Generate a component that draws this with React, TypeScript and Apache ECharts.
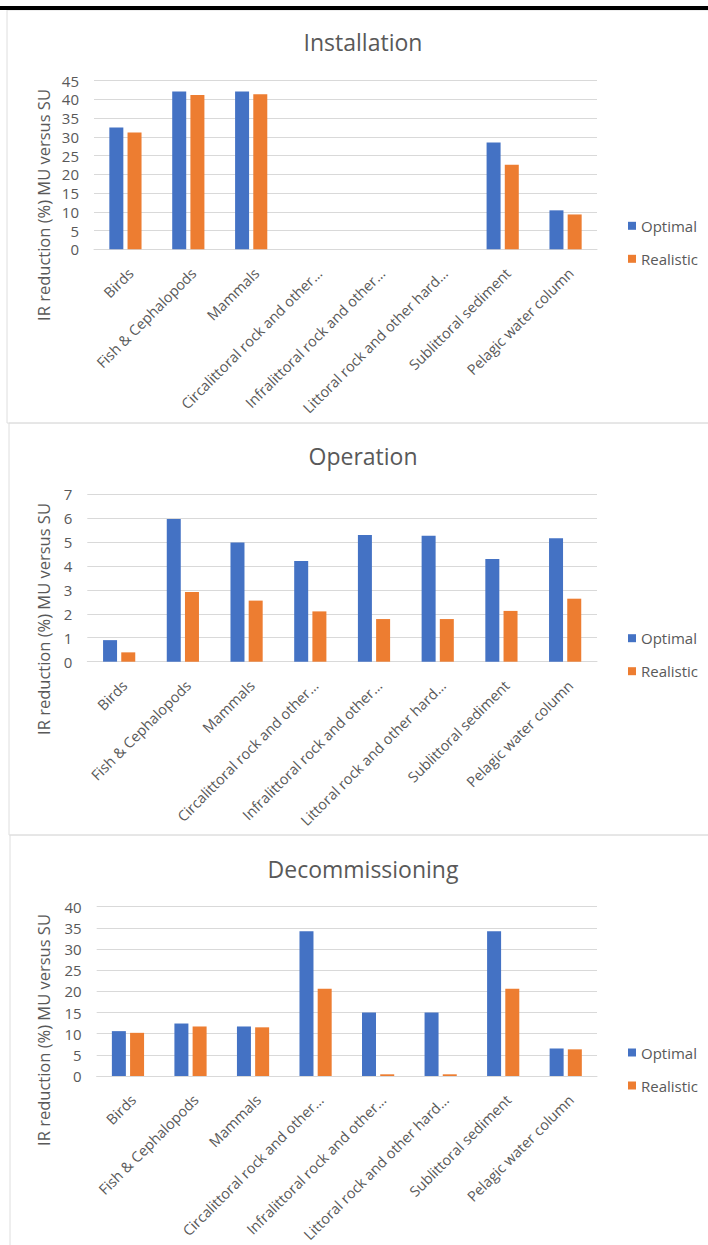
import React, { useEffect, useRef } from "react";
import * as echarts from "echarts";

// Shared category axis
const categories = [
  "Birds",
  "Fish & Cephalopods",
  "Mammals",
  "Circalittoral rock and other…",
  "Infralittoral rock and other…",
  "Littoral rock and other hard…",
  "Sublittoral sediment",
  "Pelagic water column",
];

const seriesNames = ["Optimal", "Realistic"];

// Installation phase
const installationOptimal = [32.5, 42.1, 42.1, 0, 0, 0, 28.5, 10.4];
const installationRealistic = [31.2, 41.2, 41.4, 0, 0, 0, 22.6, 9.3];

// Operation phase
const operationOptimal = [0.9, 5.96, 4.98, 4.2, 5.29, 5.26, 4.29, 5.15];
const operationRealistic = [0.39, 2.91, 2.55, 2.1, 1.78, 1.78, 2.12, 2.63];

// Decommissioning phase
const decommissioningOptimal = [10.6, 12.4, 11.7, 34.2, 15.0, 15.0, 34.2, 6.5];
const decommissioningRealistic = [10.2, 11.7, 11.5, 20.6, 0.4, 0.4, 20.6, 6.3];

const panelTitles = ["Installation", "Operation", "Decommissioning"];
const axisMax = [45, 7, 40];
const axisStep = [5, 1, 5];
const axisTitle = "IR reduction (%) MU versus SU";

const W = 708;
const H = 1245;
const FONT = "'Open Sans', 'Noto Sans', sans-serif";
const TEXT = "#595959";
const GRID_LINE = "#d9d9d9";
const BLUE = "#4472C4";
const ORANGE = "#ED7D31";

// Layout of the three stacked panels
const panels = [
  { boxX: 7, boxY: 10, boxH: 413, gridLeft: 94, gridTop: 80.7, gridBottom: 249.3, titleY: 42, nameY: 205 },
  { boxX: 9, boxY: 423, boxH: 412, gridLeft: 87.3, gridTop: 494, gridBottom: 661.7, titleY: 456, nameY: 619 },
  { boxX: 10, boxY: 835, boxH: 420, gridLeft: 96.7, gridTop: 906.7, gridBottom: 1076, titleY: 869, nameY: 1030 },
];
const gridRight = 597;

const values = [
  [installationOptimal, installationRealistic],
  [operationOptimal, operationRealistic],
  [decommissioningOptimal, decommissioningRealistic],
];

function buildOption() {
  const grid = panels.map((p) => ({
    left: p.gridLeft,
    top: p.gridTop,
    width: gridRight - p.gridLeft,
    height: p.gridBottom - p.gridTop,
    containLabel: false,
  }));

  const xAxis = panels.map((_, i) => ({
    type: "category",
    gridIndex: i,
    data: categories,
    axisLine: { show: true, lineStyle: { color: GRID_LINE, width: 1 } },
    axisTick: { show: false },
    axisLabel: {
      interval: 0,
      rotate: 45,
      margin: 16,
      verticalAlign: "top",
      color: TEXT,
      fontFamily: FONT,
      fontSize: 14.5,
    },
  }));

  const yAxis = panels.map((_, i) => ({
    type: "value",
    gridIndex: i,
    min: 0,
    max: axisMax[i],
    interval: axisStep[i],
    axisLine: { show: false },
    axisTick: { show: false },
    splitLine: { lineStyle: { color: GRID_LINE, width: 1 } },
    axisLabel: {
      margin: 15,
      color: TEXT,
      fontFamily: FONT,
      fontSize: 15,
    },
  }));

  const series: any[] = [];
  panels.forEach((_, i) => {
    seriesNames.forEach((name, k) => {
      series.push({
        type: "bar",
        name,
        xAxisIndex: i,
        yAxisIndex: i,
        data: values[i][k],
        barWidth: 14,
        barGap: "30%",
        itemStyle: { color: k === 0 ? BLUE : ORANGE },
      });
    });
  });

  const legend = panels.map((p) => ({
    data: seriesNames,
    orient: "vertical",
    left: 623,
    top: p.gridBottom - 36,
    itemWidth: 8,
    itemHeight: 8,
    itemGap: 18,
    icon: "rect",
    selectedMode: false,
    textStyle: { color: TEXT, fontFamily: FONT, fontSize: 15 },
  }));

  const graphic: any[] = [];
  panels.forEach((p, i) => {
    graphic.push({
      type: "rect",
      shape: { x: p.boxX, y: p.boxY, width: W + 20, height: p.boxH },
      style: { fill: "none", stroke: "#dedede", lineWidth: 1 },
      silent: true,
      z: -1,
    });
    graphic.push({
      type: "text",
      x: 363,
      y: p.titleY,
      style: {
        text: panelTitles[i],
        fill: TEXT,
        font: `23px ${FONT}`,
        textAlign: "center",
        textVerticalAlign: "middle",
      },
    });
    graphic.push({
      type: "text",
      x: 43,
      y: p.nameY,
      rotation: Math.PI / 2,
      style: {
        text: axisTitle,
        fill: TEXT,
        font: `16.5px ${FONT}`,
        textAlign: "center",
        textVerticalAlign: "middle",
      },
    });
  });
  // heavy rule across the top of the figure
  graphic.push({
    type: "rect",
    shape: { x: 0, y: 6, width: W, height: 4 },
    style: { fill: "#000" },
    silent: true,
    z: 10,
  });

  return {
    animation: false,
    backgroundColor: "#ffffff",
    grid,
    xAxis,
    yAxis,
    series,
    legend,
    graphic,
  };
}

export default function App() {
  const ref = useRef<HTMLDivElement>(null);

  useEffect(() => {
    if (!ref.current) return;
    const chart = echarts.init(ref.current, undefined, { renderer: "svg", width: W, height: H });
    chart.setOption(buildOption() as any);
    return () => chart.dispose();
  }, []);

  return (
    <div
      ref={ref}
      style={{ position: "absolute", left: 0, top: 0, width: W, height: H, background: "#fff" }}
    />
  );
}
